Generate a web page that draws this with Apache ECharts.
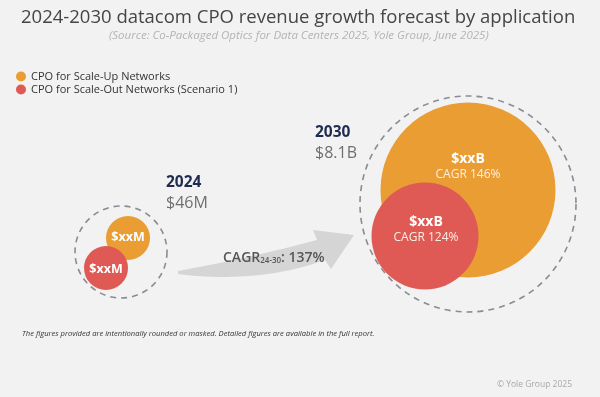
<!DOCTYPE html>
<html>
<head>
<meta charset="utf-8">
<script src="https://cdn.jsdelivr.net/npm/echarts@6/dist/echarts.min.js"></script>
<style>
html,body{margin:0;padding:0;background:#f2f2f2;}
#chart{width:600px;height:397px;}
</style>
</head>
<body>
<div id="chart"></div>
<script>
// ---- data ----
const titleText = '2024-2030 datacom CPO revenue growth forecast by application';
const sourceText = '(Source: Co-Packaged Optics for Data Centers 2025, Yole Group, June 2025)';
const segments = ['CPO for Scale-Up Networks', 'CPO for Scale-Out Networks (Scenario 1)'];
const years = ['2024', '2030'];
const totals = ['$46M', '$8.1B'];
const segValues2024 = ['$xxM', '$xxM'];
const segValues2030 = ['$xxB', '$xxB'];
const segCagr = ['CAGR 146%', 'CAGR 124%'];
const overallCagrLabel = 'CAGR';
const overallCagrPeriod = '24-30';
const overallCagrValue = '137%';
const footnote = 'The figures provided are intentionally rounded or masked. Detailed figures are available in the full report.';
const copyright = '© Yole Group 2025';

// ---- layout (positions / sizes, in pixel-like axis units) ----
const layout = {
  ring:   [{c: [121, 252], d: 92}, {c: [468, 204], d: 216}],
  up:     [{c: [128, 238], d: 44, off: [0, -1]}, {c: [468, 190], d: 175, off: [0, -23]}],
  out:    [{c: [106, 268], d: 44, off: [0, 1]}, {c: [425, 236], d: 107, off: [1, -6]}],
  yearPos: [[166, 184], [315, 134]]
};
const colors = {up: '#E99D33', out: '#E05A55', ring: '#6e727c'};
const FONT = 'Open Sans';

const chart = echarts.init(document.getElementById('chart'), null, {renderer: 'canvas'});

const richLbl = {
  v: {fontFamily: FONT, fontWeight: 'bold', fontSize: 12.5, color: '#ffffff'},
  b: {fontFamily: FONT, fontWeight: 'bold', fontSize: 14, color: '#ffffff', lineHeight: 16},
  c: {fontFamily: FONT, fontSize: 12, color: '#fbeee4', lineHeight: 15}
};

const upData = layout.up.map((p, i) => ({
  value: p.c, symbolSize: p.d,
  label: {offset: p.off, formatter: i === 0 ? '{v|' + segValues2024[0] + '}' : '{b|' + segValues2030[0] + '}\n{c|' + segCagr[0] + '}'}
}));
const outData = layout.out.map((p, i) => ({
  value: p.c, symbolSize: p.d,
  label: {offset: p.off, formatter: i === 0 ? '{v|' + segValues2024[1] + '}' : '{b|' + segValues2030[1] + '}\n{c|' + segCagr[1] + '}'}
}));
const ringData = layout.ring.map(p => ({value: p.c, symbolSize: p.d}));

// curved arrow outline (decoration)
function quad(p0, c, p1, n) {
  const pts = [];
  for (let k = 0; k <= n; k++) {
    const t = k / n, u = 1 - t;
    pts.push([u*u*p0[0] + 2*u*t*c[0] + t*t*p1[0], u*u*p0[1] + 2*u*t*c[1] + t*t*p1[1]]);
  }
  return pts;
}
const arrowPts = [].concat(
  quad([178, 271], [250, 258], [317, 240], 20),
  [[313, 230], [354, 235], [331, 269]],
  quad([325, 260], [258, 284], [178, 274], 20)
);

const option = {
  backgroundColor: '#f2f2f2',
  animation: false,
  title: [
    {
      text: titleText,
      left: 16,
      top: 3,
      textStyle: {fontFamily: FONT, fontSize: 18.5, fontWeight: 'normal', color: '#454545'}
    },
    {
      text: sourceText,
      left: 104,
      top: 25,
      textStyle: {fontFamily: FONT, fontSize: 11.5, fontStyle: 'italic', fontWeight: 'normal', color: '#b3b3b3'}
    }
  ],
  legend: {
    data: segments,
    orient: 'vertical',
    left: 11,
    top: 66,
    icon: 'circle',
    itemWidth: 10,
    itemHeight: 10,
    itemGap: 2,
    textStyle: {fontFamily: FONT, fontSize: 11, color: '#333333'}
  },
  grid: {left: 0, right: 0, top: 0, bottom: 0},
  xAxis: {type: 'value', min: 0, max: 600, show: false},
  yAxis: {type: 'value', min: 0, max: 397, inverse: true, show: false},
  series: [
    {
      type: 'scatter', name: 'ring', silent: true, z: 1,
      data: ringData,
      itemStyle: {color: 'rgba(0,0,0,0)', borderColor: colors.ring, borderWidth: 1.6, borderType: [6, 5]}
    },
    {
      type: 'scatter', name: segments[0], z: 3,
      data: upData,
      itemStyle: {color: colors.up, opacity: 1},
      label: {show: true, position: 'inside', rich: richLbl, align: 'center'}
    },
    {
      type: 'scatter', name: segments[1], z: 4,
      data: outData,
      itemStyle: {color: colors.out, opacity: 1},
      label: {show: true, position: 'inside', rich: richLbl, align: 'center'}
    }
  ],
  graphic: [
    {
      type: 'polygon', z: 0,
      shape: {points: arrowPts},
      style: {fill: '#d5d5d5'}
    },
    {
      type: 'text', left: 223, top: 251, z: 10,
      style: {
        text: '{a|' + overallCagrLabel + '}{s|' + overallCagrPeriod + '}{a|: ' + overallCagrValue + '}',
        rich: {
          a: {fontFamily: FONT, fontSize: 14, fontWeight: 600, fill: '#575757', verticalAlign: 'bottom'},
          s: {fontFamily: FONT, fontSize: 8, fontWeight: 600, fill: '#575757', padding: [6, 0, 0, 0], verticalAlign: 'bottom'}
        }
      }
    },
    ...years.map((y, i) => ({
      type: 'text', left: layout.yearPos[i][0], top: layout.yearPos[i][1] - 9,
      style: {
        text: '{y|' + y + '}\n{t|' + totals[i] + '}',
        rich: {
          y: {fontFamily: FONT, fontSize: 15.5, fontWeight: 'bold', fill: '#1f2b50', lineHeight: 20},
          t: {fontFamily: FONT, fontSize: 16, fill: '#6f6f6f', lineHeight: 20}
        }
      }
    })),
    {
      type: 'text', left: 22, top: 330,
      style: {text: footnote, fontFamily: FONT, fontSize: 7.6, fontStyle: 'italic', fill: '#333333'}
    },
    {
      type: 'text', right: 28, top: 380,
      style: {text: copyright, fontFamily: FONT, fontSize: 8.5, fill: '#a8a8a8'}
    }
  ]
};
chart.setOption(option);
</script>
</body>
</html>
